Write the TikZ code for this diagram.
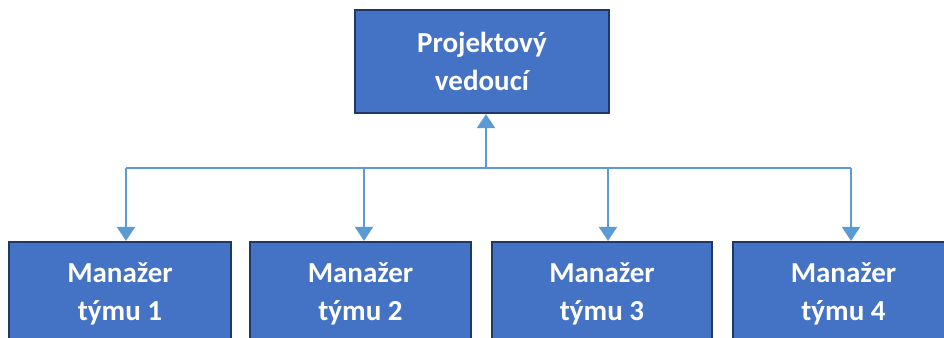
\documentclass[tikz,border=0pt]{standalone}
\usepackage{fontspec}
\setmainfont{Carlito}
\usetikzlibrary{arrows.meta}
\definecolor{boxfill}{HTML}{4472C4}
\definecolor{boxline}{HTML}{203864}
\definecolor{linkblue}{HTML}{5B9BD5}
\begin{document}
\begin{tikzpicture}[x=1pt,y=-1pt,
  rolebox/.style={rectangle, fill=boxfill, draw=boxline, line width=2.2pt,
    minimum height=103pt, inner sep=0pt, text=white, align=center,
    font=\fontsize{29}{38}\selectfont\bfseries},
  link/.style={draw=linkblue, line width=2pt},
  tip/.style={-{Triangle[width=18pt,length=14pt]}}]
  \clip (0,0) rectangle (944,337);
  \fill[white] (0,0) rectangle (944,337);

  % team leader
  \node[rolebox, minimum width=254pt] (lead) at (482,61.5) {Projektový\\vedoucí};

  % team managers
  \node[rolebox, minimum width=222pt] (m1) at (120,293.5) {Manažer\\týmu 1};
  \node[rolebox, minimum width=221pt] (m2) at (360.5,293.5) {Manažer\\týmu 2};
  \node[rolebox, minimum width=220pt] (m3) at (602,293.5) {Manažer\\týmu 3};
  \node[rolebox, minimum width=221pt] (m4) at (843.5,293.5) {Manažer\\týmu 4};

  % junctions on the horizontal bus
  \coordinate (j0) at (486,168);
  \coordinate (j1) at (126,168);
  \coordinate (j2) at (364,168);
  \coordinate (j3) at (608,168);
  \coordinate (j4) at (851,168);

  \draw[link] (j1) -- (j4);
  \draw[link, tip] (j0) -- (j0 |- lead.south);
  \draw[link, tip] (j1) -- (j1 |- m1.north);
  \draw[link, tip] (j2) -- (j2 |- m2.north);
  \draw[link, tip] (j3) -- (j3 |- m3.north);
  \draw[link, tip] (j4) -- (j4 |- m4.north);
\end{tikzpicture}
\end{document}
